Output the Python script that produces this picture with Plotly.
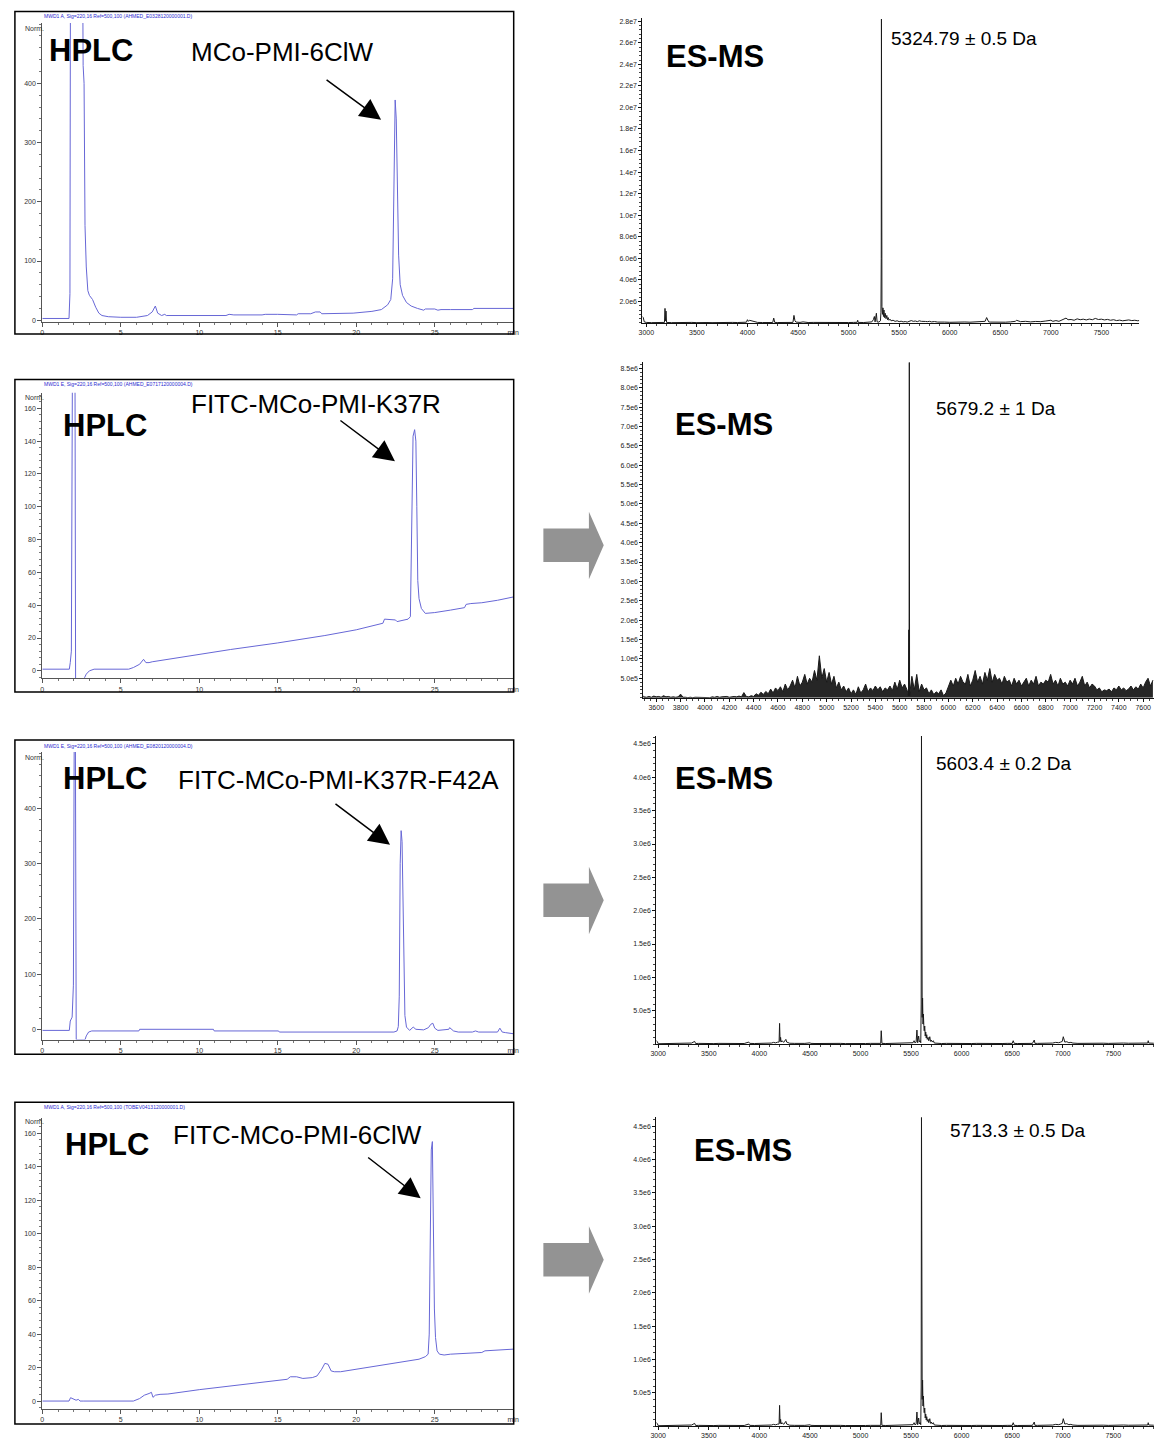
import plotly.graph_objects as go

# ======================= DATA =======================
hplc_names = ["MCo-PMI-6ClW", "FITC-MCo-PMI-K37R", "FITC-MCo-PMI-K37R-F42A", "FITC-MCo-PMI-6ClW"]
hplc_headers = [
    "MWD1 A, Sig=220,16 Ref=500,100 (AHMED_E0328120000001.D)",
    "MWD1 E, Sig=220,16 Ref=500,100 (AHMED_E0717120000004.D)",
    "MWD1 E, Sig=220,16 Ref=500,100 (AHMED_E0820120000004.D)",
    "MWD1 A, Sig=220,16 Ref=500,100 (TOBEV0413120000001.D)",
]
mass_labels = ["5324.79 ± 0.5 Da", "5679.2 ± 1 Da", "5603.4 ± 0.2 Da", "5713.3 ± 0.5 Da"]

# HPLC chromatograms (time in min, signal in Norm.)
h1_time = [0, 1.70, 1.76, 1.80, 2.55, 2.60, 2.66, 2.72, 2.80, 2.90, 3.00, 3.20, 3.40, 3.60, 3.80, 4.20,
           5.00, 6.00, 6.70, 7.00, 7.20, 7.35, 7.60, 7.80, 7.90, 8.20, 10.0, 11.7, 11.9, 12.2, 14.0,
           14.2, 15.0, 16.2, 16.3, 17.1, 17.4, 17.7, 17.8, 19.6, 19.8, 21.0, 21.6, 22.0, 22.2, 22.32,
           22.40, 22.48, 22.55, 22.62, 22.70, 22.80, 22.95, 23.2, 23.5, 23.9, 24.3, 24.4, 25.0, 25.2,
           25.4, 26.0, 27.4, 27.5, 30.0]
h1_signal = [3, 3, 45, 700, 700, 430, 400, 160, 90, 50, 42, 35, 22, 12, 8, 6,
             5, 5, 8, 14, 24, 12, 8, 10, 8, 8, 8, 8, 10, 9, 9,
             10, 10, 9, 11, 11, 14, 14, 11, 11, 12, 15, 18, 26, 35, 70,
             200, 372, 340, 200, 110, 60, 42, 30, 24, 20, 17, 19, 19, 17,
             18, 18, 18, 20, 20]

h2_time = [0, 1.72, 1.78, 1.85, 1.92, 2.00, 2.08, 2.12, 2.62, 2.70, 2.80, 3.00, 3.30, 5.50, 5.80, 6.20,
           6.45, 6.60, 6.80, 7.00, 8.00, 10.0, 12.0, 15.0, 18.0, 20.0, 21.0, 21.7, 21.8, 22.5, 22.6,
           23.3, 23.45, 23.55, 23.62, 23.72, 23.80, 23.86, 23.92, 24.0, 24.15, 24.4, 25.0, 26.0, 26.9,
           27.0, 27.3, 28.0, 29.0, 30.0]
h2_signal = [1, 1, 5, 12, 190, 190, 190, -5, -5, -4, -2, 0, 1, 1, 2, 4,
             7, 5, 5, 5.5, 7, 10, 13, 17, 21.5, 25, 27.5, 29, 31.5, 31, 30,
             31.5, 33, 120, 143, 147, 140, 100, 55, 44, 38, 35, 35.5, 37, 38.5,
             40.5, 41, 41.5, 43, 45]

h3_time = [0, 1.72, 1.78, 1.90, 1.98, 2.04, 2.10, 2.16, 2.72, 2.80, 2.95, 3.15, 6.15, 6.20, 10.9, 10.95,
           15.05, 15.1, 22.4, 22.6, 22.68, 22.74, 22.80, 22.86, 22.92, 22.98, 23.03, 23.10, 23.20, 23.40,
           23.63, 23.80, 24.30, 24.60, 24.75, 24.88, 25.00, 25.20, 25.90, 25.95, 26.20, 26.50, 27.40,
           27.60, 27.80, 29.00, 29.15, 29.30, 29.50, 30.0]
h3_signal = [-2, -2, 15, 22, 80, 600, 600, -19, -19, -12, -5, -3, -3, 0, 0, -3,
             -3, -5, -5, -3, 5, 60, 300, 360, 340, 200, 100, 25, 4, -2,
             4, 0, -1, 3, 9, 11, 2, -2, 0, 3, -3, -5, -5,
             -3, -5, -5, 2, -5, -6, -8]

h4_time = [0, 1.70, 1.80, 1.90, 2.00, 2.15, 2.30, 2.40, 2.60, 5.80, 6.20, 6.50, 6.80, 6.95, 7.05, 7.20,
           7.50, 8.00, 10.0, 12.0, 14.0, 15.0, 15.6, 15.8, 16.2, 16.6, 17.2, 17.5, 17.8, 18.0, 18.2,
           18.4, 18.6, 19.0, 20.0, 21.0, 22.0, 23.0, 24.0, 24.4, 24.5, 24.58, 24.65, 24.72, 24.78,
           24.85, 24.92, 24.98, 25.05, 25.15, 25.3, 25.6, 26.0, 27.0, 28.0, 28.2, 29.0, 30.0]
h4_signal = [0, 0, 2, 1.5, 1, 0.5, 1, 0, 0, 0, 1.5, 3.5, 4.5, 5.2, 2.2, 3.5,
             4, 4.2, 6.8, 9, 11, 12, 13, 14.5, 14.5, 13.5, 14, 15, 19, 22.5, 22,
             18, 17.5, 17.5, 19, 20.5, 22, 23.5, 25, 26.5, 27.5, 28, 40, 90, 150,
             155, 100, 55, 38, 30, 28, 27.5, 28, 28.5, 29, 30, 30.5, 31]

hplc_xticks = [0, 5, 10, 15, 20, 25, 30]
hplc_xticktext = ["0", "5", "10", "15", "20", "25", "min"]
hplc_yticks_500 = [0, 100, 200, 300, 400]
hplc_yticks_160 = [0, 20, 40, 60, 80, 100, 120, 140, 160]

# ES-MS spectra (m/z in Da, intensity in counts)
ms1_mz = [2962, 2970, 2980, 3000, 3050, 3100, 3150, 3180, 3185, 3190, 3195, 3200, 3250, 3300, 3350, 3400,
          3450, 3500, 3550, 3575, 3600, 3650, 3700, 3750, 3800, 3820, 3850, 3900, 3950, 3990, 4000, 4010,
          4020, 4040, 4060, 4080, 4100, 4150, 4200, 4250, 4260, 4270, 4300, 4350, 4400, 4450, 4460, 4470,
          4480, 4520, 4550, 4600, 4650, 4700, 4750, 4800, 4850, 4900, 4950, 5000, 5050, 5085, 5090, 5095,
          5150, 5200, 5230, 5245, 5255, 5262, 5275, 5282, 5300, 5315, 5320, 5323, 5325, 5327, 5330, 5335,
          5340, 5345, 5350, 5355, 5362, 5370, 5378, 5385, 5392, 5400, 5410, 5420, 5440, 5460, 5480, 5500,
          5520, 5540, 5560, 5580, 5600, 5620, 5640, 5660, 5680, 5700, 5720, 5740, 5760, 5780, 5800, 5820,
          5850, 5880, 5900, 5950, 6000, 6050, 6100, 6150, 6200, 6250, 6300, 6350, 6365, 6375, 6385, 6400,
          6450, 6500, 6550, 6600, 6650, 6660, 6700, 6750, 6800, 6850, 6900, 6950, 7000, 7020, 7050, 7080,
          7100, 7130, 7150, 7170, 7200, 7230, 7260, 7290, 7320, 7350, 7380, 7410, 7440, 7470, 7500, 7530,
          7560, 7590, 7620, 7650, 7680, 7710, 7740, 7770, 7800, 7830, 7860, 7875]
ms1_int_e5 = [6, 5, 1, 0.5, 0.3, 0.5, 0.4, 0.5, 13.5, 2, 11, 0.5, 0.3, 0.5, 0.4, 0.3,
              0.5, 0.3, 0.5, 0.8, 0.4, 0.3, 0.5, 0.4, 0.6, 1.0, 0.5, 0.4, 0.5, 0.7, 3.0, 1.5,
              2.5, 2.0, 1.2, 0.8, 0.5, 0.4, 0.5, 0.4, 4.5, 0.5, 0.4, 0.5, 0.4, 0.5, 7.0, 2.0,
              0.8, 0.5, 1.0, 0.4, 0.5, 0.4, 0.5, 0.3, 0.5, 0.4, 0.5, 0.4, 0.5, 0.6, 2.5, 0.5,
              0.4, 0.6, 1.0, 3.0, 6.0, 1.0, 9.0, 1.0, 0.8, 2.0, 10, 60, 282, 50, 15, 8,
              14, 6, 12, 5, 9, 4, 7, 3, 5, 2.5, 3.5, 2, 2.5, 1.5, 2, 1.2,
              1.6, 1, 1.3, 0.8, 1.2, 2.2, 1.5, 1.8, 1.2, 2, 1.5, 1.8, 1.4, 1.2, 1.5, 1.0,
              1.3, 0.8, 1.0, 0.8, 0.6, 0.8, 0.5, 0.9, 0.7, 1.0, 0.8, 1.5, 5.0, 3.0, 1.0, 0.8,
              0.6, 0.9, 0.7, 1.0, 1.5, 2.5, 1.2, 1.5, 1.0, 1.4, 1.2, 1.8, 2.5, 1.5, 2.2, 1.5,
              2.5, 3.5, 4.5, 3.0, 3.2, 2.5, 3.8, 3.0, 3.5, 2.8, 3.6, 3.0, 4.2, 3.2, 3.5, 2.8,
              3.3, 2.5, 3.0, 2.2, 2.6, 2.0, 2.5, 2.8, 2.2, 2.5, 2.0, 2.3]

# ES-MS #2: noisy baseline sampled every 20 Da from 3480 Da, plus the main peak
ms2_noise_start, ms2_noise_step = 3480, 20
ms2_noise_e4 = [8, 2, 1, 3, 1, 4, 2,
                3, 1, 5, 2, 3, 1, 2, 1, 2, 9,
                1, 1, 0, 1, 0, 1, 1, 0, 1, 1,
                1, 0, 2, 1, 3, 1, 2, 2, 3, 1,
                2, 3, 2, 4, 2, 13, 3, 2, 5, 3,
                10, 6, 14, 8, 16, 10, 22, 12, 25, 18,
                28, 15, 35, 20, 30, 45, 25, 55, 30, 40,
                60, 35, 50, 40, 70, 45, 108, 50, 75, 40,
                65, 35, 55, 25, 40, 20, 30, 15, 25, 10,
                20, 8, 28, 12, 20, 35, 15, 25, 18, 30,
                20, 28, 15, 25, 20, 30, 18, 40, 22, 45,
                25, 35, 20, 30, 55, 20, 60, 15, 35, 20,
                25, 10, 20, 8, 15, 10, 20, 5, 12, 30,
                45, 30, 50, 35, 55, 40, 35, 60, 30, 45,
                70, 40, 55, 35, 65, 45, 75, 40, 60, 45,
                50, 35, 55, 40, 45, 30, 50, 35, 45, 30,
                40, 50, 30, 45, 35, 55, 30, 40, 35, 45,
                40, 60, 35, 45, 30, 50, 35, 40, 30, 45,
                35, 50, 30, 40, 55, 30, 40, 25, 35, 30,
                20, 25, 15, 20, 18, 22, 15, 25, 20, 30,
                20, 25, 18, 22, 30, 20, 28, 22, 35, 25,
                40, 50, 30, 45]
ms2_peak_mz = [5672, 5675, 5677, 5679, 5681]
ms2_peak_e4 = [5, 175, 5, 880, 5]

# ES-MS #3 and #4 (same spectrum image)
ms34_mz = [2982, 2990, 3000, 3050, 3100, 3150, 3200, 3250, 3300, 3330, 3360, 3370, 3400, 3450, 3500, 3550,
           3600, 3650, 3700, 3750, 3800, 3850, 3895, 3905, 3950, 4000, 4050, 4100, 4120, 4140, 4160, 4180,
           4195, 4200, 4205, 4210, 4215, 4225, 4240, 4255, 4262, 4270, 4285, 4300, 4350, 4400, 4450, 4500,
           4510, 4550, 4600, 4650, 4700, 4750, 4800, 4850, 4900, 4950, 5000, 5050, 5100, 5150, 5200, 5205,
           5212, 5250, 5300, 5350, 5400, 5450, 5500, 5520, 5530, 5540, 5550, 5558, 5565, 5575, 5582, 5590,
           5596, 5600, 5603, 5606, 5610, 5614, 5618, 5622, 5626, 5630, 5635, 5640, 5645, 5650, 5655, 5660,
           5668, 5675, 5685, 5692, 5700, 5710, 5720, 5730, 5750, 5800, 5850, 5900, 5950, 6000, 6050, 6100,
           6150, 6200, 6250, 6300, 6350, 6400, 6450, 6500, 6510, 6520, 6550, 6600, 6650, 6700, 6718, 6725,
           6750, 6800, 6850, 6880, 6900, 6930, 6960, 6980, 6995, 7005, 7012, 7020, 7040, 7060, 7080, 7100,
           7150, 7200, 7250, 7300, 7350, 7400, 7450, 7500, 7550, 7600, 7650, 7700, 7750, 7800, 7840, 7845,
           7850, 7900]
ms34_int_e4 = [5, 4, 0.5, 0.5, 1, 0.5, 1, 0.8, 1, 1.5, 4, 0.8, 1, 0.6, 1, 0.7,
               1, 0.8, 1, 0.7, 1, 0.8, 3, 1, 0.8, 1, 0.8, 1.2, 1.5, 2.5, 1.8, 2.8,
               3, 31, 4, 10, 3, 5, 2.5, 5, 7, 3, 2, 1.2, 1, 0.8, 1, 1.8,
               1, 0.8, 1, 0.7, 1, 0.8, 1, 0.7, 1, 0.8, 1, 0.8, 1, 0.8, 1, 20,
               1, 0.8, 1, 0.8, 1, 0.8, 1, 2, 5, 1.5, 3, 21, 2, 12, 3, 5,
               2, 60, 470, 120, 40, 69, 30, 45, 28, 20, 27, 12, 18, 9, 14, 7,
               10, 5, 11, 4, 6, 3, 5, 1.5, 1, 0.8, 1, 0.8, 1, 0.8, 1, 0.8,
               1, 0.8, 1, 0.8, 1, 0.8, 1, 1, 5, 1, 0.8, 1, 0.8, 1, 6, 1,
               1, 1, 1.5, 2, 1.5, 2.5, 2, 3, 4, 11, 5, 3, 3.5, 2, 2.5, 1.5,
               1, 1.2, 1, 1.2, 1, 1.3, 1, 1.5, 1.2, 1.5, 1.2, 1.5, 1.2, 1.5, 1.5, 5,
               1.5, 1.2]

ms1_xticks = [3000, 3500, 4000, 4500, 5000, 5500, 6000, 6500, 7000, 7500]
ms1_yticks = [2e6, 4e6, 6e6, 8e6, 1e7, 1.2e7, 1.4e7, 1.6e7, 1.8e7, 2e7, 2.2e7, 2.4e7, 2.6e7, 2.8e7]
ms1_yticktext = ["2.0e6", "4.0e6", "6.0e6", "8.0e6", "1.0e7", "1.2e7", "1.4e7", "1.6e7", "1.8e7",
                 "2.0e7", "2.2e7", "2.4e7", "2.6e7", "2.8e7"]
ms2_xticks = [3600, 3800, 4000, 4200, 4400, 4600, 4800, 5000, 5200, 5400, 5600, 5800, 6000, 6200,
              6400, 6600, 6800, 7000, 7200, 7400, 7600]
ms2_yticks = [5e5, 1e6, 1.5e6, 2e6, 2.5e6, 3e6, 3.5e6, 4e6, 4.5e6, 5e6, 5.5e6, 6e6, 6.5e6, 7e6,
              7.5e6, 8e6, 8.5e6]
ms2_yticktext = ["5.0e5", "1.0e6", "1.5e6", "2.0e6", "2.5e6", "3.0e6", "3.5e6", "4.0e6", "4.5e6",
                 "5.0e6", "5.5e6", "6.0e6", "6.5e6", "7.0e6", "7.5e6", "8.0e6", "8.5e6"]
ms34_xticks = [3000, 3500, 4000, 4500, 5000, 5500, 6000, 6500, 7000, 7500]
ms34_yticks = [5e5, 1e6, 1.5e6, 2e6, 2.5e6, 3e6, 3.5e6, 4e6, 4.5e6]
ms34_yticktext = ["5.0e5", "1.0e6", "1.5e6", "2.0e6", "2.5e6", "3.0e6", "3.5e6", "4.0e6", "4.5e6"]

# ======================= FIGURE =======================
W, H = 1160, 1444


def fx(p):
    return p / W


def fy(p):
    return 1 - p / H


SANS = "Liberation Sans, Arial, sans-serif"
HPLC_COLOR = "#6767d6"

ms2_mz = [ms2_noise_start + ms2_noise_step * i for i in range(len(ms2_noise_e4))] + ms2_peak_mz
ms2_vals = [v * 1e4 for v in ms2_noise_e4] + [v * 1e4 for v in ms2_peak_e4]
ms2_sorted = sorted(zip(ms2_mz, ms2_vals))

hplc_data = [(h1_time, h1_signal), (h2_time, h2_signal), (h3_time, h3_signal), (h4_time, h4_signal)]
ms_data = [
    (ms1_mz, [v * 1e5 for v in ms1_int_e5]),
    ([p[0] for p in ms2_sorted], [p[1] for p in ms2_sorted]),
    (ms34_mz, [v * 1e4 for v in ms34_int_e4]),
    (ms34_mz, [v * 1e4 for v in ms34_int_e4]),
]
ms_fill = [False, True, False, False]

# panel geometry (pixels)
hplc_geo = [
    dict(top=23, bot=322, yr=[-2.2, 502], ticks=hplc_yticks_500, minor=20, ftop=11.5, fbot=334.5, hdr=15.7, norm=29),
    dict(top=393.3, bot=679.3, yr=[-4.6, 169.5], ticks=hplc_yticks_160, minor=4, ftop=380, fbot=693, hdr=385, norm=398),
    dict(top=753, bot=1041, yr=[-18.6, 502.6], ticks=hplc_yticks_500, minor=20, ftop=741, fbot=1055.7, hdr=746.7, norm=759),
    dict(top=1119.7, bot=1410.7, yr=[-4.6, 169], ticks=hplc_yticks_160, minor=4, ftop=1103.7, fbot=1426, hdr=1109, norm=1123),
]
ms_geo = [
    dict(x0=643, x1=1145, xr=[2961, 7873], top=18, bot=323.4, yr=[0, 2.83e7], xt=ms1_xticks, xminor=100,
         yt=ms1_yticks, ytt=ms1_yticktext, yminor=4e5),
    dict(x0=644, x1=1160, xr=[3494, 7689], top=363, bot=698.6, yr=[0, 8.65e6], xt=ms2_xticks, xminor=50,
         yt=ms2_yticks, ytt=ms2_yticktext, yminor=1e5),
    dict(x0=657, x1=1160, xr=[2980, 7902], top=737, bot=1045.5, yr=[0, 4.62e6], xt=ms34_xticks, xminor=100,
         yt=ms34_yticks, ytt=ms34_yticktext, yminor=1e5),
    dict(x0=657, x1=1160, xr=[2980, 7902], top=1119, bot=1428, yr=[0, 4.63e6], xt=ms34_xticks, xminor=100,
         yt=ms34_yticks, ytt=ms34_yticktext, yminor=1e5),
]

fig = go.Figure()
layout = dict(width=W, height=H, margin=dict(l=0, r=0, t=0, b=0), paper_bgcolor="white",
              plot_bgcolor="white", showlegend=False)
shapes, annotations = [], []

tick_font_h = dict(family=SANS, size=7, color="#333")
tick_font_m = dict(family=SANS, size=7, color="#222")

for i in range(4):
    # ---------- HPLC ----------
    n = 2 * i + 1
    g = hplc_geo[i]
    t, v = hplc_data[i]
    fig.add_trace(go.Scatter(x=t, y=v, mode="lines", line=dict(color=HPLC_COLOR, width=1),
                             xaxis=f"x{n}", yaxis=f"y{n}", hoverinfo="skip"))
    layout[f"xaxis{n}"] = dict(domain=[fx(36.7), fx(512.5)], range=[0, 30], anchor=f"y{n}",
                               showgrid=False, zeroline=False, showline=True, linecolor="#555", linewidth=1,
                               ticks="outside", ticklen=4, tickcolor="#555", tickvals=hplc_xticks,
                               ticktext=hplc_xticktext, tickfont=tick_font_h,
                               minor=dict(dtick=1, ticks="outside", ticklen=2, tickcolor="#777"))
    layout[f"yaxis{n}"] = dict(domain=[fy(g["bot"]), fy(g["top"])], range=g["yr"], anchor=f"x{n}",
                               showgrid=False, zeroline=False, showline=True, linecolor="#555", linewidth=1,
                               ticks="outside", ticklen=4, tickcolor="#555", tickvals=g["ticks"],
                               tickfont=tick_font_h,
                               minor=dict(dtick=g["minor"], ticks="outside", ticklen=2, tickcolor="#777"))
    shapes.append(dict(type="rect", xref="paper", yref="paper", x0=fx(9), x1=fx(513),
                       y0=fy(g["fbot"]), y1=fy(g["ftop"]), line=dict(color="black", width=1.5)))
    annotations.append(dict(xref="paper", yref="paper", x=fx(37), y=fy(g["hdr"]), text=hplc_headers[i],
                            showarrow=False, xanchor="left", yanchor="middle", borderpad=0,
                            font=dict(family=SANS, size=5, color="#2a2ad0")))
    annotations.append(dict(xref="paper", yref="paper", x=fx(18), y=fy(g["norm"]), text="Norm.",
                            showarrow=False, xanchor="left", yanchor="middle", borderpad=0,
                            font=dict(family=SANS, size=7, color="#333")))

    # ---------- ES-MS ----------
    m = 2 * i + 2
    s = ms_geo[i]
    mz, it = ms_data[i]
    extra = dict(fill="tozeroy", fillcolor="rgba(20,20,20,0.92)") if ms_fill[i] else {}
    fig.add_trace(go.Scatter(x=mz, y=it, mode="lines", line=dict(color="#1a1a1a", width=1),
                             xaxis=f"x{m}", yaxis=f"y{m}", hoverinfo="skip", **extra))
    layout[f"xaxis{m}"] = dict(domain=[fx(s["x0"]), fx(s["x1"])], range=s["xr"], anchor=f"y{m}",
                               showgrid=False, zeroline=False, showline=True, linecolor="#111", linewidth=1,
                               ticks="outside", ticklen=3, tickcolor="#111", tickvals=s["xt"],
                               tickfont=tick_font_m,
                               minor=dict(dtick=s["xminor"], ticks="outside", ticklen=2, tickcolor="#444"))
    layout[f"yaxis{m}"] = dict(domain=[fy(s["bot"]), fy(s["top"])], range=s["yr"], anchor=f"x{m}",
                               showgrid=False, zeroline=False, showline=True, linecolor="#111", linewidth=1,
                               ticks="outside", ticklen=3, tickcolor="#111", tickvals=s["yt"],
                               ticktext=s["ytt"], tickfont=tick_font_m,
                               minor=dict(dtick=s["yminor"], ticks="outside", ticklen=2, tickcolor="#444"))

# ---------- labels ----------
hplc_label_pos = [(42, 51), (57, 426), (57, 780), (59, 1146)]
name_pos = [(186, 52), (186, 405), (173, 781), (168, 1137)]
esms_pos = [(666, 57), (675, 425), (675, 780), (694, 1152)]
mass_pos = [(893, 39), (939, 409), (939, 765), (953, 1132)]
arrow_tip = [(379, 120), (393, 462), (388, 846), (419, 1200)]
arrow_tail = [(323, 79), (337, 420), (332, 804), (365, 1158)]

for i in range(4):
    annotations.append(dict(xref="paper", yref="paper", x=fx(hplc_label_pos[i][0]), y=fy(hplc_label_pos[i][1]),
                            text="<b>HPLC</b>", showarrow=False, xanchor="left", yanchor="middle", borderpad=0,
                            font=dict(family=SANS, size=31, color="black")))
    annotations.append(dict(xref="paper", yref="paper", x=fx(name_pos[i][0]), y=fy(name_pos[i][1]),
                            text=hplc_names[i], showarrow=False, xanchor="left", yanchor="middle", borderpad=0,
                            font=dict(family=SANS, size=26, color="black")))
    annotations.append(dict(xref="paper", yref="paper", x=fx(esms_pos[i][0]), y=fy(esms_pos[i][1]),
                            text="<b>ES-MS</b>", showarrow=False, xanchor="left", yanchor="middle", borderpad=0,
                            font=dict(family=SANS, size=31, color="black")))
    annotations.append(dict(xref="paper", yref="paper", x=fx(mass_pos[i][0]), y=fy(mass_pos[i][1]),
                            text=mass_labels[i], showarrow=False, xanchor="left", yanchor="middle", borderpad=0,
                            font=dict(family=SANS, size=19, color="black")))
    tx, ty = arrow_tip[i]
    ax_, ay_ = arrow_tail[i]
    annotations.append(dict(xref="paper", yref="paper", x=fx(tx), y=fy(ty), text="", showarrow=True,
                            ax=ax_ - tx, ay=ay_ - ty, arrowhead=2, arrowsize=2.8, arrowwidth=1.5,
                            arrowcolor="black", standoff=0))

# gray block arrows between columns
for cy in [546, 901.5, 1261.5]:
    pts = [(543, cy - 16.7), (589, cy - 16.7), (589, cy - 33.5), (604, cy), (589, cy + 34),
           (589, cy + 16.7), (543, cy + 16.7)]
    path = "M " + " L ".join(f"{fx(a):.5f},{fy(b):.5f}" for a, b in pts) + " Z"
    shapes.append(dict(type="path", xref="paper", yref="paper", path=path,
                       fillcolor="#939393", line=dict(width=0)))

layout["shapes"] = shapes
layout["annotations"] = annotations
fig.update_layout(**layout)
fig.write_html("out.html")
